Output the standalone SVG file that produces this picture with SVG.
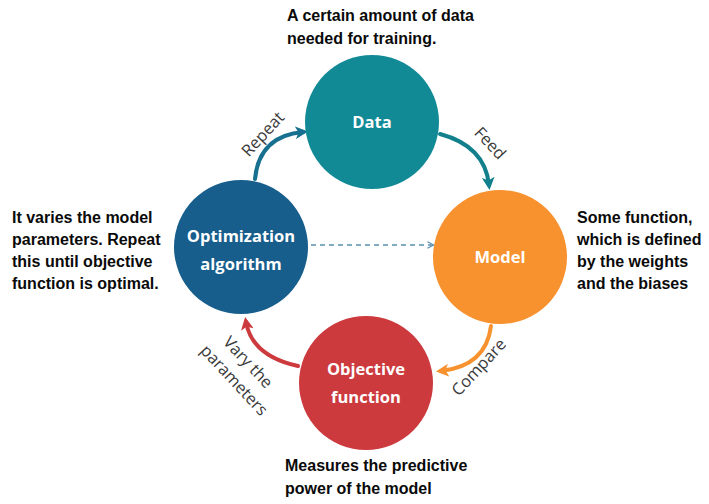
<svg xmlns="http://www.w3.org/2000/svg" width="709" height="504" viewBox="0 0 709 504">
  <style>
    .node-label { font-family: "Open Sans", "Noto Sans", sans-serif; font-weight: 700; font-size: 16.5px; fill: #ffffff; text-anchor: middle; }
    .note { font-family: "Liberation Sans", Arial, sans-serif; font-weight: 700; font-size: 16px; fill: #0a0a0a; }
    .edge-label { font-family: "Open Sans", "Noto Sans", sans-serif; font-size: 16.5px; fill: #3a3a3a; text-anchor: middle; }
    .flow { fill: none; stroke-width: 4; stroke-linecap: round; }
  </style>
  <defs>
    <marker id="head-teal" viewBox="0 0 10 10" refX="6" refY="5" markerWidth="3.2" markerHeight="3.2" orient="auto" markerUnits="strokeWidth">
      <path d="M0,0 L10,5 L0,10 L2.5,5 Z" fill="#17708f"/>
    </marker>
    <marker id="head-dteal" viewBox="0 0 10 10" refX="6" refY="5" markerWidth="3.2" markerHeight="3.2" orient="auto" markerUnits="strokeWidth">
      <path d="M0,0 L10,5 L0,10 L2.5,5 Z" fill="#12808c"/>
    </marker>
    <marker id="head-orange" viewBox="0 0 10 10" refX="6" refY="5" markerWidth="3.2" markerHeight="3.2" orient="auto" markerUnits="strokeWidth">
      <path d="M0,0 L10,5 L0,10 L2.5,5 Z" fill="#f7922e"/>
    </marker>
    <marker id="head-red" viewBox="0 0 10 10" refX="6" refY="5" markerWidth="3.2" markerHeight="3.2" orient="auto" markerUnits="strokeWidth">
      <path d="M0,0 L10,5 L0,10 L2.5,5 Z" fill="#cc3a3e"/>
    </marker>
    <marker id="head-dash" viewBox="0 0 10 10" refX="8" refY="5" markerWidth="8" markerHeight="8" orient="auto" markerUnits="userSpaceOnUse">
      <path d="M1,1 L9,5 L1,9" fill="none" stroke="#5a8fb0" stroke-width="1.6"/>
    </marker>
  </defs>

  <rect width="709" height="504" fill="#ffffff"/>

  <!-- connectors between the four stages, plus their labels -->
  <g id="connectors">
    <path class="flow" d="M255,179 Q259,136 303,132" stroke="#17708f" marker-end="url(#head-teal)"/>
    <path class="flow" d="M440,134 Q485,146 489,185" stroke="#12808c" marker-end="url(#head-dteal)"/>
    <path class="flow" d="M491,326 Q486,366 441,371" stroke="#f7922e" marker-end="url(#head-orange)"/>
    <path class="flow" d="M298,366 Q252,356 246,322" stroke="#cc3a3e" marker-end="url(#head-red)"/>
    <line x1="311" y1="245" x2="433" y2="245" stroke="#5a8fb0" stroke-width="1.6" stroke-dasharray="5,4" marker-end="url(#head-dash)"/>
    <text class="edge-label" transform="translate(267,138) rotate(-47)">Repeat</text>
    <text class="edge-label" transform="translate(486,147) rotate(47)">Feed</text>
    <text class="edge-label" transform="translate(483,371) rotate(-47)">Compare</text>
    <text class="edge-label" transform="translate(244,366) rotate(47)">Vary the</text>
    <text class="edge-label" transform="translate(230,384) rotate(47)">parameters</text>
  </g>

  <g id="node-data">
    <circle cx="372" cy="122" r="67" fill="#128a96"/>
    <text class="node-label" x="372" y="128">Data</text>
  </g>
  <g id="node-model">
    <circle cx="500" cy="257" r="67" fill="#f7922e"/>
    <text class="node-label" x="500" y="263">Model</text>
  </g>
  <g id="node-objective">
    <circle cx="366" cy="383" r="67" fill="#cc3a3e"/>
    <text class="node-label" x="366" y="375">Objective</text>
    <text class="node-label" x="366" y="403">function</text>
  </g>
  <g id="node-optimization">
    <circle cx="241" cy="247" r="67" fill="#175e8c"/>
    <text class="node-label" x="241" y="242">Optimization</text>
    <text class="node-label" x="241" y="270">algorithm</text>
  </g>

  <g id="notes">
    <text class="note" x="287" y="21">A certain amount of data</text>
    <text class="note" x="287" y="44">needed for training.</text>
    <text class="note" x="12" y="223">It varies the model</text>
    <text class="note" x="12" y="245">parameters. Repeat</text>
    <text class="note" x="12" y="267">this until objective</text>
    <text class="note" x="12" y="289">function is optimal.</text>
    <text class="note" x="577" y="223">Some function,</text>
    <text class="note" x="577" y="245">which is defined</text>
    <text class="note" x="577" y="267">by the weights</text>
    <text class="note" x="577" y="289">and the biases</text>
    <text class="note" x="285" y="471">Measures the predictive</text>
    <text class="note" x="285" y="494">power of the model</text>
  </g>
</svg>
